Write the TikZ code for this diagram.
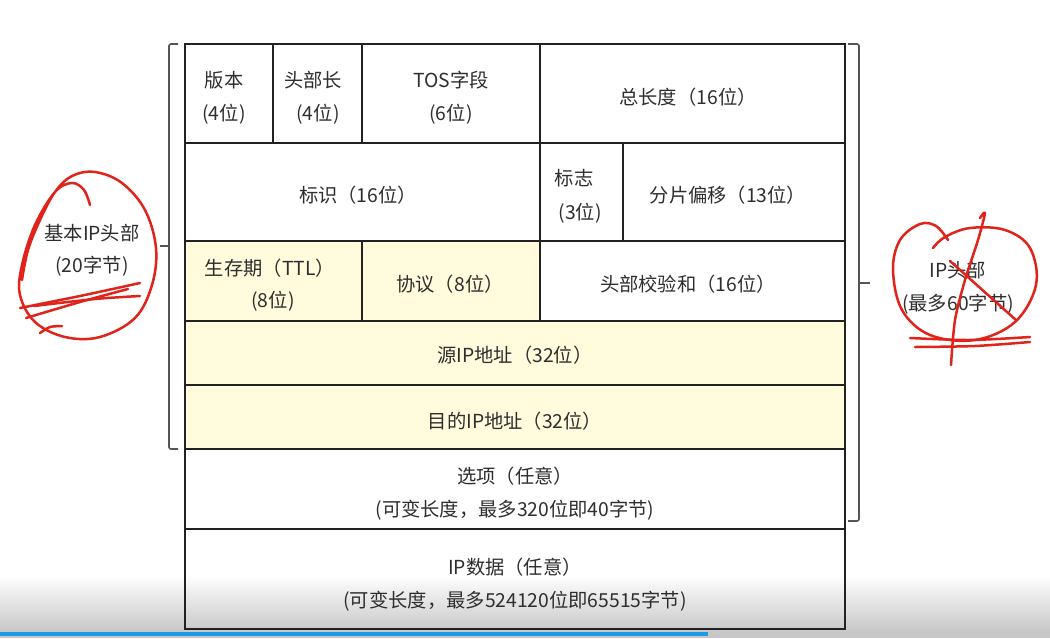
\documentclass[tikz,border=0pt]{standalone}
\usepackage{fontspec}
\setmainfont{Noto Sans CJK SC}
\usetikzlibrary{calc}
\definecolor{txt}{HTML}{2E2E2E}
\definecolor{grid}{HTML}{222222}
\definecolor{pale}{HTML}{FFFBDC}
\definecolor{pen}{HTML}{E0231B}
\definecolor{brc}{HTML}{555555}
\definecolor{bar}{HTML}{1E9BE8}
\tikzset{
  cellline/.style={draw=grid, line width=2pt},
  lbl/.style={text=txt, font=\fontsize{19.3}{22}\selectfont, inner sep=0pt, anchor=center},
  bracket/.style={draw=brc, line width=1.6pt, rounded corners=2pt},
  scribble/.style={draw=pen, line width=2.5pt, line cap=round, line join=round},
}
\begin{document}
\begin{tikzpicture}[x=1pt,y=-1pt]
\useasboundingbox (0,0) rectangle (1050,638);
\fill[white] (0,0) rectangle (1050,638);
% yellow fills
\fill[pale] (185,241) rectangle (540,321);
\fill[pale] (185,321) rectangle (845,449);
% screenshot bottom shade
\shade[top color=white, bottom color=black!22] (0,575) rectangle (1050,632);
\fill[black!22] (0,632) rectangle (1050,638);
% table grid
\draw[cellline] (185,44) rectangle (845,629);
\foreach \yy in {143,241,321,385,449,529}{\draw[cellline] (185,\yy) -- (845,\yy);}
\draw[cellline] (273,44) -- (273,143);
\draw[cellline] (362,44) -- (362,143);
\draw[cellline] (540,44) -- (540,321);
\draw[cellline] (623,143) -- (623,241);
\draw[cellline] (362,241) -- (362,321);
% braces
\draw[bracket] (178,44) -- (169,44) -- (169,449) -- (178,449);
\draw[draw=brc, line width=1.6pt] (169,246) -- (160,246);
\draw[bracket] (848,44) -- (859,44) -- (859,521) -- (848,521);
\draw[draw=brc, line width=1.6pt] (859,283) -- (870,283);
% labels
\node[lbl] (ver) at (224,80) {版本};
\node[lbl] (verb) at (224,114) {(4位)};
\node[lbl] (hl) at (313,80) {头部长};
\node[lbl] (hlb) at (318,114) {(4位)};
\node[lbl] (tos) at (451,80) {TOS字段};
\node[lbl] (tosb) at (451,114) {(6位)};
\node[lbl] (tot) at (688,97) {总长度（16位）};
\node[lbl] (id) at (358,195) {标识（16位）};
\node[lbl] (flag) at (574,178) {标志};
\node[lbl] (flagb) at (580,213) {(3位)};
\node[lbl] (frag) at (728,195) {分片偏移（13位）};
\node[lbl] (ttl) at (270,268) {生存期（TTL）};
\node[lbl] (ttlb) at (273,301) {(8位)};
\node[lbl] (proto) at (450,284) {协议（8位）};
\node[lbl] (csum) at (688,284) {头部校验和（16位）};
\node[lbl] (src) at (515,355) {源IP地址（32位）};
\node[lbl] (dst) at (515,421) {目的IP地址（32位）};
\node[lbl] (opt) at (515,476) {选项（任意）};
\node[lbl] (optb) at (515,510) {(可变长度，最多320位即40字节)};
\node[lbl] (data) at (515,567) {IP数据（任意）};
\node[lbl] (datab) at (515,601) {(可变长度，最多524120位即65515字节)};
\node[lbl] (basic) at (92,233) {基本IP头部};
\node[lbl] (basicb) at (92,266) {(20字节)};
\node[lbl] (iph) at (958,270) {IP头部};
\node[lbl] (iphb) at (958,304) {(最多60字节)};
% left red scribble
\draw[scribble] plot[smooth, tension=0.6] coordinates {(90,205) (84,190) (72,183) (55,192) (35,225) (22,265) (20,295) (35,322) (65,337) (100,337) (135,318) (152,285) (156,248) (145,210) (122,183) (95,172) (72,176) (55,192) (40,220) (28,250) (22,280)};
\draw[scribble] plot[smooth] coordinates {(20,308) (80,296) (140,283)};
\draw[scribble] plot[smooth] coordinates {(34,306) (95,299) (140,296)};
\draw[scribble] plot[smooth] coordinates {(26,318) (80,302) (128,289)};
\draw[scribble] plot[smooth] coordinates {(40,333) (50,327) (62,326)};
% right red scribble
\draw[scribble] plot[smooth, tension=0.6] coordinates {(948,240) (936,226) (920,224) (900,240) (893,270) (902,310) (930,335) (975,340) (1015,322) (1036,285) (1030,248) (1005,230) (970,228) (945,237) (933,248)};
\draw[scribble] plot[smooth] coordinates {(980,218) (985,213) (978,240) (965,280) (955,320) (951,365)};
\draw[scribble] (950,261) -- (1016,320);
\draw[scribble] plot[smooth] coordinates {(910,338) (970,340) (1030,337)};
\draw[scribble] plot[smooth] coordinates {(915,347) (975,346) (1030,342)};
% progress bar
\fill[bar] (0,632) rectangle (708,636);
\end{tikzpicture}
\end{document}
